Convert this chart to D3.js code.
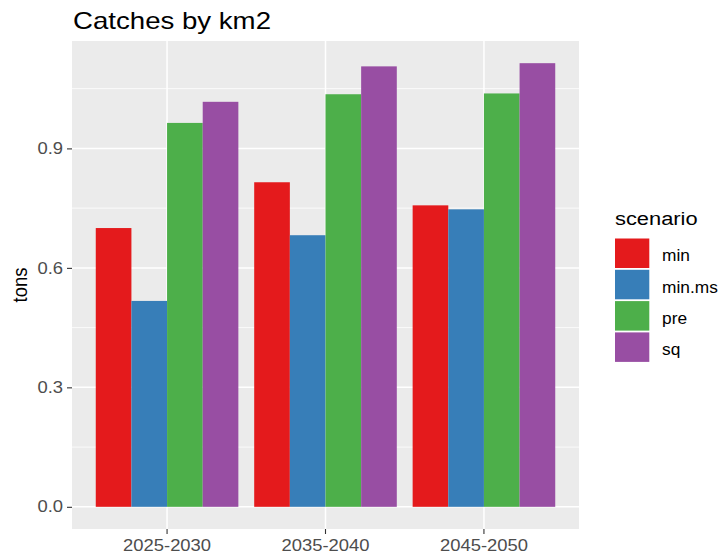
<!DOCTYPE html>
<html>
<head>
<meta charset="utf-8">
<script src="https://cdn.jsdelivr.net/npm/d3@7"></script>
<style>
  html, body { margin: 0; padding: 0; background: #fff; }
  svg { display: block; font-family: "Liberation Sans", Arial, sans-serif; }
</style>
</head>
<body>
<svg id="chart" width="720" height="559"></svg>
<script>
// ---- data ----
const periods = ["2025-2030", "2035-2040", "2045-2050"];
const scenarios = ["min", "min.ms", "pre", "sq"];
const minValues   = [0.700, 0.815, 0.757];
const minMsValues = [0.517, 0.682, 0.747];
const preValues   = [0.964, 1.036, 1.038];
const sqValues    = [1.017, 1.106, 1.114];
const yTicks = [0.0, 0.3, 0.6, 0.9];
const yMinorTicks = [0.15, 0.45, 0.75, 1.05];
const colors = ["#E41A1C", "#377EB8", "#4DAF4A", "#984EA3"];
const titleText = "Catches by km2";
const yLabel = "tons";
const legendTitle = "scenario";

const seriesValues = [minValues, minMsValues, preValues, sqValues];
const rows = [];
periods.forEach((p, i) => scenarios.forEach((s, j) => rows.push({period: p, scenario: s, value: seriesValues[j][i]})));

// ---- layout ----
const svg = d3.select("#chart");
const panel = {left: 72, right: 579, top: 41, bottom: 529};
const SX = 1.15; // horizontal text stretch of reference

const maxV = d3.max(rows, d => d.value);
const span = maxV - 0;
const y = d3.scaleLinear().domain([0 - 0.05 * span, maxV + 0.05 * span]).range([panel.bottom, panel.top]);
const x = d3.scaleBand().domain(periods).range([panel.left, panel.right]).paddingInner(0.1).paddingOuter(0.15);
const xInner = d3.scaleBand().domain(scenarios).range([0, x.bandwidth()]).padding(0);
const color = d3.scaleOrdinal().domain(scenarios).range(colors);

// panel background
svg.append("rect").attr("x", panel.left).attr("y", panel.top)
  .attr("width", panel.right - panel.left).attr("height", panel.bottom - panel.top)
  .attr("fill", "#EBEBEB");

// minor gridlines
svg.append("g").selectAll("line").data(yMinorTicks).join("line")
  .attr("x1", panel.left).attr("x2", panel.right)
  .attr("y1", d => y(d)).attr("y2", d => y(d))
  .attr("stroke", "#fff").attr("stroke-width", 0.8);
// major gridlines
svg.append("g").selectAll("line").data(yTicks).join("line")
  .attr("x1", panel.left).attr("x2", panel.right)
  .attr("y1", d => y(d)).attr("y2", d => y(d))
  .attr("stroke", "#fff").attr("stroke-width", 1.5);
svg.append("g").selectAll("line").data(periods).join("line")
  .attr("x1", d => x(d) + x.bandwidth() / 2).attr("x2", d => x(d) + x.bandwidth() / 2)
  .attr("y1", panel.top).attr("y2", panel.bottom)
  .attr("stroke", "#fff").attr("stroke-width", 1.5);

// bars
svg.append("g").selectAll("rect").data(rows).join("rect")
  .attr("x", d => x(d.period) + xInner(d.scenario))
  .attr("width", xInner.bandwidth())
  .attr("y", d => y(d.value))
  .attr("height", d => y(0) - y(d.value))
  .attr("fill", d => color(d.scenario));

// axes
const yAxis = svg.append("g").attr("transform", `translate(${panel.left},0)`)
  .call(d3.axisLeft(y).tickValues(yTicks).tickFormat(d3.format(".1f")).tickSize(5).tickPadding(4));
const xAxis = svg.append("g").attr("transform", `translate(0,${panel.bottom})`)
  .call(d3.axisBottom(x).tickSize(5).tickPadding(6));
[yAxis, xAxis].forEach(g => {
  g.select(".domain").remove();
  g.selectAll(".tick line").attr("stroke", "#333333").attr("stroke-width", 1.1);
  g.selectAll(".tick text").attr("fill", "#4D4D4D").attr("font-size", 16)
    .attr("font-family", "'Liberation Sans', Arial, sans-serif");
});
yAxis.selectAll(".tick text").each(function() {
  const t = d3.select(this);
  const xv = +t.attr("x");
  t.attr("x", xv / SX).attr("transform", `scale(${SX},1)`);
});
xAxis.selectAll(".tick text").attr("transform", `scale(${SX},1)`);

// title
svg.append("text").attr("x", 73).attr("y", 29)
  .attr("font-size", 24).attr("fill", "#000")
  .attr("textLength", 198).attr("lengthAdjust", "spacingAndGlyphs")
  .text(titleText);

// y label
svg.append("text")
  .attr("transform", `translate(26.5,${(panel.top + panel.bottom) / 2}) scale(1.1,1) rotate(-90)`)
  .attr("text-anchor", "middle").attr("font-size", 18.5).attr("fill", "#000")
  .text(yLabel);

// legend
const legend = svg.append("g");
legend.append("text").attr("transform", `translate(615,224.5) scale(${SX},1)`)
  .attr("font-size", 19).attr("fill", "#000").text(legendTitle);
const keyY0 = 238.5, keyStep = 31.3, keyH = 29.5, keyW = 34.3;
const items = legend.selectAll("g.item").data(scenarios).join("g").attr("class", "item")
  .attr("transform", (d, i) => `translate(615,${keyY0 + i * keyStep})`);
items.append("rect").attr("width", keyW).attr("height", keyH)
  .attr("fill", d => color(d));
items.append("text").attr("transform", `translate(47,${keyH / 2 + 8}) scale(1.05,1)`)
  .attr("font-size", 16.5).attr("fill", "#000").text(d => d);
</script>
</body>
</html>
